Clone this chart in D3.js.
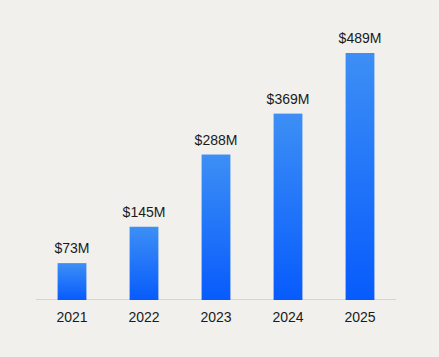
<!DOCTYPE html>
<html><head><meta charset="utf-8">
<script src="https://cdn.jsdelivr.net/npm/d3@7"></script>
<style>html,body{margin:0;padding:0;background:#f1f0ec;}svg{display:block;}</style>
</head><body>
<script>
const years = ["2021","2022","2023","2024","2025"];
const revenue = [73,145,288,369,489];
const labels = ["$73M","$145M","$288M","$369M","$489M"];

const W=439,H=357;
const svg=d3.select("body").append("svg").attr("width",W).attr("height",H);
svg.append("rect").attr("width",W).attr("height",H).attr("fill","#f1f0ec");
const defs=svg.append("defs");
const g=defs.append("linearGradient").attr("id","bg").attr("x1",0).attr("y1",0).attr("x2",0).attr("y2",1);
g.append("stop").attr("offset","0%").attr("stop-color","#3d8ff5");
g.append("stop").attr("offset","100%").attr("stop-color","#075bfc");

const x=d3.scaleBand().domain(years).range([36,396]).paddingInner(0.6).paddingOuter(0.3);
const y=d3.scaleLinear().domain([0,489]).range([300,53]);

svg.append("line").attr("x1",36).attr("x2",396).attr("y1",299.5).attr("y2",299.5)
  .attr("stroke","#d6d4ce").attr("stroke-width",1);

svg.selectAll("rect.bar").data(revenue).join("rect").attr("class","bar")
  .attr("x",(d,i)=>x(years[i])).attr("width",x.bandwidth())
  .attr("y",d=>y(d)).attr("height",d=>y(0)-y(d)).attr("fill","url(#bg)");

svg.selectAll("text.val").data(revenue).join("text").attr("class","val")
  .attr("x",(d,i)=>x(years[i])+x.bandwidth()/2).attr("y",d=>y(d)-10)
  .attr("text-anchor","middle").attr("font-family","Liberation Sans, Arial, sans-serif")
  .attr("font-size",14).attr("fill","#1a1a1a").text((d,i)=>labels[i]);

const xa=svg.append("g").attr("transform","translate(0,300)")
  .call(d3.axisBottom(x).tickSize(0).tickPadding(12));
xa.select(".domain").remove();
xa.selectAll("text").attr("font-family","Liberation Sans, Arial, sans-serif").attr("font-size",14).attr("fill","#1a1a1a");
</script>
</body></html>
